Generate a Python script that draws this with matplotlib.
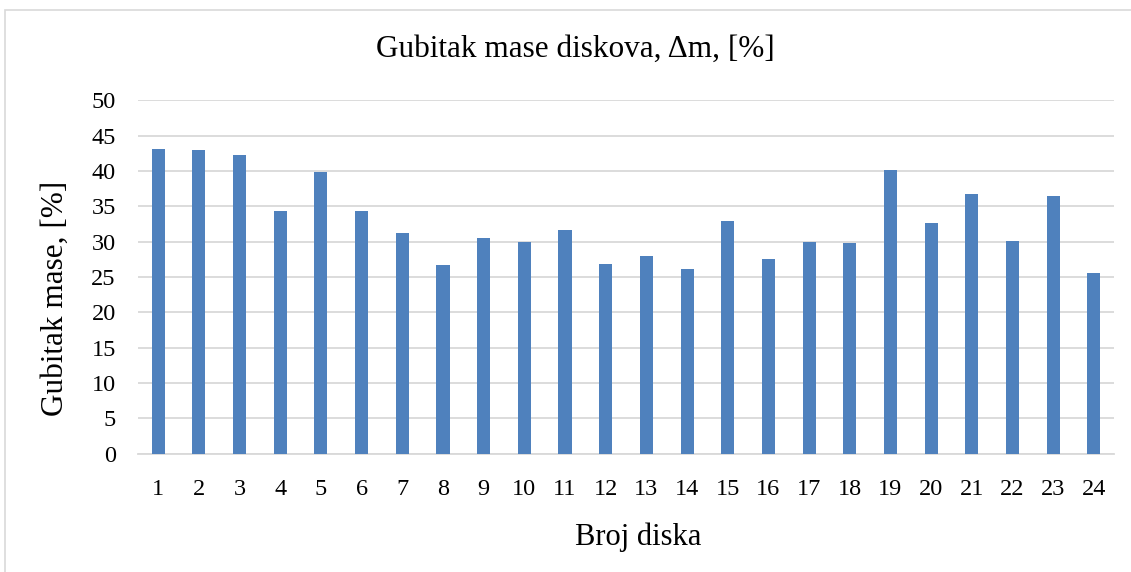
import matplotlib
matplotlib.use("Agg")
import matplotlib.pyplot as plt
from matplotlib.patches import Rectangle

# Data
disks = [str(i) for i in range(1, 25)]
mass_loss = [43.1, 43.0, 42.3, 34.4, 39.9, 34.3, 31.2, 26.7, 30.5, 29.9, 31.7, 26.8,
             28.0, 26.2, 33.0, 27.5, 29.9, 29.8, 40.2, 32.6, 36.7, 30.1, 36.4, 25.6]
yticks = list(range(0, 51, 5))

BAR_COLOR = '#4F81BD'
GRID_COLOR = '#d9d9d9'

plt.rcParams['font.family'] = ['Liberation Serif', 'DejaVu Serif']

fig = plt.figure(figsize=(11.31, 5.72), dpi=100)
ax = fig.add_axes([0.122, 0.2066, 0.863, 0.618])

x = list(range(len(disks)))
ax.bar(x, mass_loss, width=0.32, color=BAR_COLOR, zorder=3)

ax.set_xlim(-0.5, len(disks) - 0.5)
ax.set_ylim(0, 50)
ax.set_yticks(yticks)
ax.set_xticks(x)
ax.set_xticklabels(disks)
ax.tick_params(axis='both', length=0, labelsize=17.5, colors='black')
ax.tick_params(axis='x', pad=18)
ax.tick_params(axis='y', pad=16)

ax.grid(axis='y', color=GRID_COLOR, linewidth=1.3, zorder=0)
for side in ['top', 'right', 'left']:
    ax.spines[side].set_visible(False)
ax.spines['bottom'].set_color(GRID_COLOR)
ax.spines['bottom'].set_linewidth(1.3)

# axis titles and chart title placed like the original
fig.text(0.0486, 0.479, 'Gubitak mase, [%]', rotation=90, ha='center', va='center', fontsize=22.5)
fig.text(0.564, 0.061, 'Broj diska', ha='center', va='center', fontsize=22)
fig.text(0.509, 0.913, 'Gubitak mase diskova, \u0394m, [%]', ha='center', va='center', fontsize=22.5)

# light border around the chart area
fig.patches.append(Rectangle((0.004, -0.01), 1.0, 0.993, transform=fig.transFigure,
                             fill=False, edgecolor=GRID_COLOR, linewidth=1.2))

fig.savefig('out.png', dpi=100)
